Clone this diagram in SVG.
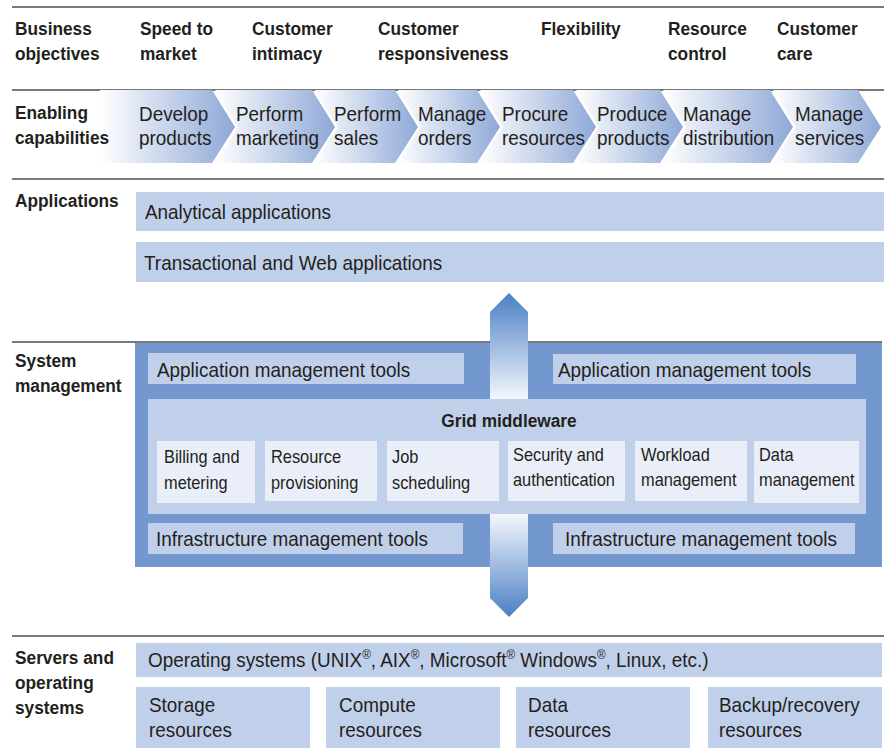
<svg xmlns="http://www.w3.org/2000/svg" width="890" height="748" viewBox="0 0 890 748">
<defs>
<style>
text{fill:#231f20;font-family:"Liberation Sans",Arial,sans-serif}
.b{font-size:19px;font-weight:bold}
.r{font-size:21px}
.s{font-size:18px}
.rule{stroke:#4d4d4d;stroke-width:1.5;fill:none}
.lb{fill:#c1d0ea}
.sub{fill:#e9eef8}
.sys{fill:#7298cf}
.chev{fill:url(#gChev)}
</style>
<linearGradient id="gChev" x1="0" y1="0" x2="1" y2="0">
<stop offset="0" stop-color="#ffffff"/>
<stop offset="1" stop-color="#8ea8d7"/>
</linearGradient>
<linearGradient id="gUp" x1="0" y1="0" x2="0" y2="1">
<stop offset="0" stop-color="#4a7fc5"/>
<stop offset="1" stop-color="#f4f7fc"/>
</linearGradient>
<linearGradient id="gDown" x1="0" y1="0" x2="0" y2="1">
<stop offset="0" stop-color="#f4f7fc"/>
<stop offset="1" stop-color="#4a7fc5"/>
</linearGradient>
</defs>
<rect width="890" height="748" fill="#ffffff"/>

<g id="rules">
<line class="rule" x1="12" y1="7" x2="884" y2="7"/>
<line class="rule" x1="12" y1="90" x2="884" y2="90"/>
<line class="rule" x1="12" y1="179" x2="884" y2="179"/>
<line class="rule" x1="12" y1="342" x2="882" y2="342"/>
<line class="rule" x1="12" y1="636" x2="884" y2="636"/>
</g>

<g id="objectives">
<text class="b" transform="translate(15,35) scale(.91,1)"><tspan x="0">Business</tspan><tspan x="0" y="25">objectives</tspan></text>
<text class="b" transform="translate(140,35) scale(.91,1)"><tspan x="0">Speed to</tspan><tspan x="0" y="25">market</tspan></text>
<text class="b" transform="translate(252,35) scale(.91,1)"><tspan x="0">Customer</tspan><tspan x="0" y="25">intimacy</tspan></text>
<text class="b" transform="translate(378,35) scale(.91,1)"><tspan x="0">Customer</tspan><tspan x="0" y="25">responsiveness</tspan></text>
<text class="b" transform="translate(541,35) scale(.91,1)">Flexibility</text>
<text class="b" transform="translate(668,35) scale(.91,1)"><tspan x="0">Resource</tspan><tspan x="0" y="25">control</tspan></text>
<text class="b" transform="translate(777,35) scale(.91,1)"><tspan x="0">Customer</tspan><tspan x="0" y="25">care</tspan></text>
</g>

<g id="capabilities">
<g id="chev1"><polygon class="chev" points="100,90 212,90 235,127 212,163 100,163"/>
<text class="r" transform="translate(139,121) scale(.9,1)"><tspan x="0">Develop</tspan><tspan x="0" y="24">products</tspan></text></g>
<g id="chev2"><polygon class="chev" points="215,90 312,90 335,127 312,163 215,163 238,127"/>
<text class="r" transform="translate(236,121) scale(.9,1)"><tspan x="0">Perform</tspan><tspan x="0" y="24">marketing</tspan></text></g>
<g id="chev3"><polygon class="chev" points="315,90 395,90 418,127 395,163 315,163 338,127"/>
<text class="r" transform="translate(334,121) scale(.9,1)"><tspan x="0">Perform</tspan><tspan x="0" y="24">sales</tspan></text></g>
<g id="chev4"><polygon class="chev" points="398,90 477,90 500,127 477,163 398,163 421,127"/>
<text class="r" transform="translate(418,121) scale(.9,1)"><tspan x="0">Manage</tspan><tspan x="0" y="24">orders</tspan></text></g>
<g id="chev5"><polygon class="chev" points="480,90 573,90 596,127 573,163 480,163 503,127"/>
<text class="r" transform="translate(502,121) scale(.9,1)"><tspan x="0">Procure</tspan><tspan x="0" y="24">resources</tspan></text></g>
<g id="chev6"><polygon class="chev" points="576,90 660,90 683,127 660,163 576,163 599,127"/>
<text class="r" transform="translate(597,121) scale(.9,1)"><tspan x="0">Produce</tspan><tspan x="0" y="24">products</tspan></text></g>
<g id="chev7"><polygon class="chev" points="663,90 770,90 793,127 770,163 663,163 686,127"/>
<text class="r" transform="translate(683,121) scale(.9,1)"><tspan x="0">Manage</tspan><tspan x="0" y="24">distribution</tspan></text></g>
<g id="chev8"><polygon class="chev" points="773,90 858,90 881,127 858,163 773,163 796,127"/>
<text class="r" transform="translate(795,121) scale(.9,1)"><tspan x="0">Manage</tspan><tspan x="0" y="24">services</tspan></text></g>
<text class="b" transform="translate(15,119) scale(.91,1)"><tspan x="0">Enabling</tspan><tspan x="0" y="25">capabilities</tspan></text>
</g>

<g id="applications">
<text class="b" transform="translate(15,207) scale(.91,1)">Applications</text>
<g id="analytical"><rect class="lb" x="136" y="192" width="748" height="39"/>
<text class="r" transform="translate(145,219) scale(.9,1)">Analytical applications</text></g>
<g id="transactional"><rect class="lb" x="136" y="242" width="748" height="40"/>
<text class="r" transform="translate(144,270) scale(.9,1)">Transactional and Web applications</text></g>
</g>

<g id="system-management">
<text class="b" transform="translate(15,367) scale(.91,1)"><tspan x="0">System</tspan><tspan x="0" y="25">management</tspan></text>
<rect class="sys" x="135" y="343" width="747" height="224"/>
</g>

<g id="connectors">
<polygon fill="url(#gUp)" points="490,399 490,312 509,293 528,312 528,399"/>
<polygon fill="url(#gDown)" points="490,514 528,514 528,598 509,617 490,598"/>
</g>

<g id="app-tools-left"><rect class="lb" x="148" y="353" width="316" height="31"/>
<text class="r" transform="translate(157,377) scale(.9,1)">Application management tools</text></g>
<g id="app-tools-right"><rect class="lb" x="553" y="354" width="303" height="30"/>
<text class="r" transform="translate(558,377) scale(.9,1)">Application management tools</text></g>

<g id="grid-middleware">
<rect class="lb" x="148" y="399" width="718" height="115"/>
<text class="b" text-anchor="middle" transform="translate(509,427) scale(.91,1)">Grid middleware</text>
<g id="billing"><rect class="sub" x="157" y="441" width="98" height="62"/>
<text class="s" transform="translate(164,463) scale(.91,1)"><tspan x="0">Billing and</tspan><tspan x="0" y="26">metering</tspan></text></g>
<g id="provisioning"><rect class="sub" x="265" y="441" width="112" height="60"/>
<text class="s" transform="translate(271,463) scale(.91,1)"><tspan x="0">Resource</tspan><tspan x="0" y="26">provisioning</tspan></text></g>
<g id="scheduling"><rect class="sub" x="387" y="441" width="112" height="60"/>
<text class="s" transform="translate(392,463) scale(.91,1)"><tspan x="0">Job</tspan><tspan x="0" y="26">scheduling</tspan></text></g>
<g id="security"><rect class="sub" x="508" y="441" width="117" height="60"/>
<text class="s" transform="translate(513,461) scale(.91,1)"><tspan x="0">Security and</tspan><tspan x="0" y="25">authentication</tspan></text></g>
<g id="workload"><rect class="sub" x="635" y="441" width="112" height="60"/>
<text class="s" transform="translate(641,461) scale(.91,1)"><tspan x="0">Workload</tspan><tspan x="0" y="25">management</tspan></text></g>
<g id="data-mgmt"><rect class="sub" x="754" y="441" width="105" height="62"/>
<text class="s" transform="translate(759,461) scale(.91,1)"><tspan x="0">Data</tspan><tspan x="0" y="25">management</tspan></text></g>
</g>

<g id="infra-tools-left"><rect class="lb" x="148" y="523" width="315" height="31"/>
<text class="r" transform="translate(156,546) scale(.9,1)">Infrastructure management tools</text></g>
<g id="infra-tools-right"><rect class="lb" x="553" y="523" width="302" height="31"/>
<text class="r" transform="translate(565,546) scale(.9,1)">Infrastructure management tools</text></g>

<g id="servers">
<text class="b" transform="translate(15,664) scale(.91,1)"><tspan x="0">Servers and</tspan><tspan x="0" y="25">operating</tspan><tspan x="0" y="50">systems</tspan></text>
<g id="os"><rect class="lb" x="136" y="643" width="746" height="34"/>
<text class="r" transform="translate(148,667) scale(.9,1)">Operating systems (UNIX<tspan font-size="13" dy="-8">®</tspan><tspan dy="8">, AIX</tspan><tspan font-size="13" dy="-8">®</tspan><tspan dy="8">, Microsoft</tspan><tspan font-size="13" dy="-8">®</tspan><tspan dy="8"> Windows</tspan><tspan font-size="13" dy="-8">®</tspan><tspan dy="8">, Linux, etc.)</tspan></text></g>
<g id="storage"><rect class="lb" x="136" y="687" width="174" height="61"/>
<text class="r" transform="translate(149,712) scale(.9,1)"><tspan x="0">Storage</tspan><tspan x="0" y="25">resources</tspan></text></g>
<g id="compute"><rect class="lb" x="326" y="687" width="174" height="61"/>
<text class="r" transform="translate(339,712) scale(.9,1)"><tspan x="0">Compute</tspan><tspan x="0" y="25">resources</tspan></text></g>
<g id="data-res"><rect class="lb" x="516" y="687" width="174" height="61"/>
<text class="r" transform="translate(528,712) scale(.9,1)"><tspan x="0">Data</tspan><tspan x="0" y="25">resources</tspan></text></g>
<g id="backup"><rect class="lb" x="708" y="687" width="174" height="61"/>
<text class="r" transform="translate(719,712) scale(.9,1)"><tspan x="0">Backup/recovery</tspan><tspan x="0" y="25">resources</tspan></text></g>
</g>
</svg>
